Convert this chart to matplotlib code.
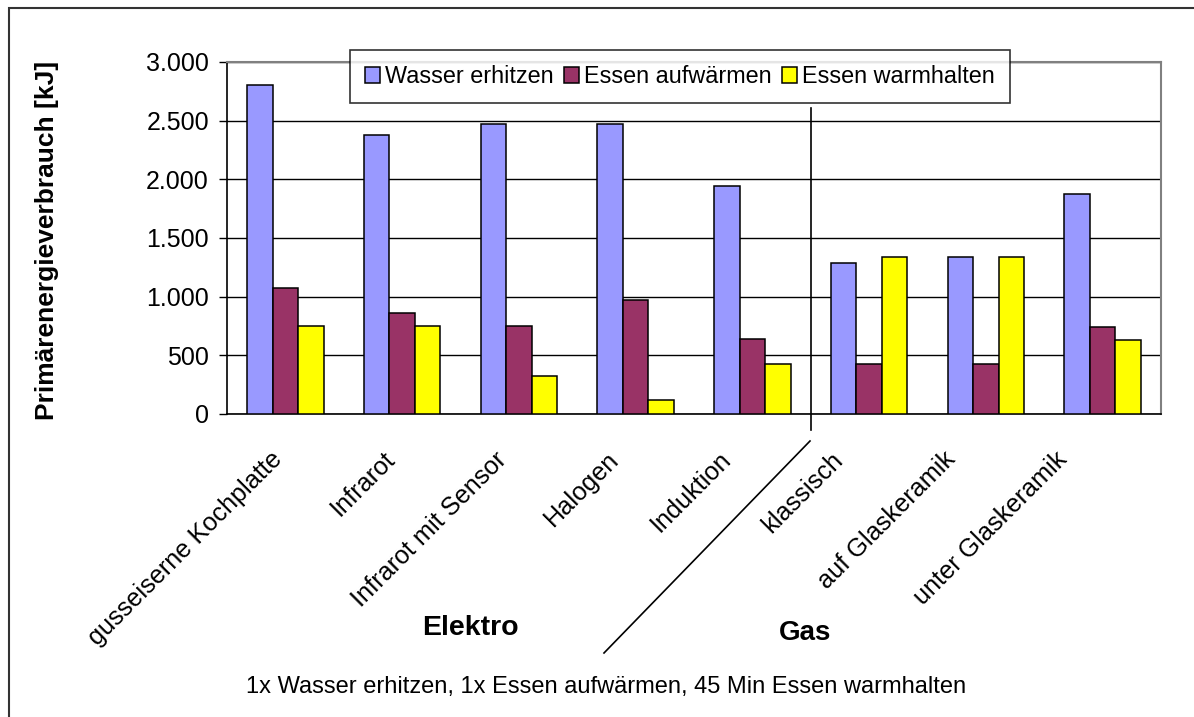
import numpy as np
import matplotlib.pyplot as plt
from matplotlib.patches import Rectangle
from matplotlib.lines import Line2D
from matplotlib.ticker import FuncFormatter
import matplotlib.transforms as mtransforms

plt.rcParams['font.family'] = ['Liberation Sans', 'DejaVu Sans']

categories = ["gusseiserne Kochplatte", "Infrarot", "Infrarot mit Sensor", "Halogen",
              "Induktion", "klassisch", "auf Glaskeramik", "unter Glaskeramik"]
series = ["Wasser erhitzen", "Essen aufwärmen", "Essen warmhalten"]
wasser = [2800, 2375, 2470, 2470, 1940, 1290, 1335, 1875]
aufwaermen = [1070, 865, 750, 975, 643, 427, 427, 740]
warmhalten = [752, 752, 327, 122, 427, 1335, 1335, 629]
colors = ["#9999FF", "#993366", "#FFFF00"]

W, H = 1194, 717
fig = plt.figure(figsize=(W / 100, H / 100), dpi=100)

# outer frame
fig.patches.append(Rectangle((9 / W, -0.1), 1.2, 1.1 - 8 / H, transform=fig.transFigure,
                             fill=False, edgecolor="#333333", lw=1.5))

ax = fig.add_axes([227 / W, 1 - 414 / H, (1161 - 227) / W, (414 - 62) / H])

x = np.arange(len(categories))
bw = 0.219
for i, (vals, c) in enumerate(zip([wasser, aufwaermen, warmhalten], colors)):
    ax.bar(x + (i - 1) * bw, vals, bw, color=c, edgecolor="black", lw=1.1,
           label=series[i], zorder=3)

ax.set_xlim(-0.5, len(categories) - 0.5)
ax.set_ylim(0, 3000)
ax.set_yticks(np.arange(0, 3001, 500))
ax.yaxis.set_major_formatter(FuncFormatter(lambda v, p: f"{int(v):,}".replace(",", ".")))
ax.grid(axis="y", color="black", lw=1, zorder=0)
ax.set_axisbelow(True)
for s in ["top", "right"]:
    ax.spines[s].set_color("#808080")
    ax.spines[s].set_linewidth(1.5)
for s in ["left", "bottom"]:
    ax.spines[s].set_color("black")
    ax.spines[s].set_linewidth(1.2)
ax.tick_params(axis="y", labelsize=18, length=6, width=1, pad=7)
ax.tick_params(axis="x", length=0, pad=24)
ax.set_xticks(x)
ax.set_xticklabels(categories, rotation=45, ha="right", va="top", rotation_mode="anchor",
                   fontsize=18.2)
# Excel spaces the slanted labels a little tighter than the categories
for i, lbl in enumerate(ax.get_xticklabels()):
    dx = -(15 + 4.7 * i)
    lbl.set_transform(lbl.get_transform() +
                      mtransforms.ScaledTranslation(dx / 100, 0, fig.dpi_scale_trans))

ax.set_ylabel("Primärenergieverbrauch [kJ]", fontsize=19, fontweight="bold")
ax.yaxis.set_label_coords((59 - 227) / (1161 - 227), 0.494)

leg = ax.legend(loc="upper left", bbox_to_anchor=((350 - 227) / (1161 - 227), 1 + 12 / 352),
                ncol=3, fontsize=16.8, frameon=True, fancybox=False, handlelength=0.65,
                handleheight=0.65, handletextpad=0.2, columnspacing=0.45,
                borderpad=0.65, borderaxespad=0)
leg.get_frame().set_edgecolor("black")
leg.get_frame().set_linewidth(1.2)
leg.set_zorder(5)

# separator between Elektro and Gas
trans = mtransforms.blended_transform_factory(ax.transData, ax.transAxes)
ax.add_line(Line2D([4.5, 4.5], [(414 - 108) / 352, -16 / 352], transform=trans,
                   color="black", lw=1.2, clip_on=False, zorder=4))
fig.add_artist(Line2D([810 / W, 604 / W], [1 - 441 / H, 1 - 653 / H],
                      transform=fig.transFigure, color="black", lw=1.2))

fig.text(470 / W, 1 - 628 / H, "Elektro", fontsize=20.5, fontweight="bold", ha="center", va="center")
fig.text(805 / W, 1 - 633 / H, "Gas", fontsize=20, fontweight="bold", ha="center", va="center")
fig.text(606 / W, 1 - 687 / H, "1x Wasser erhitzen, 1x Essen aufwärmen, 45 Min Essen warmhalten",
         fontsize=17, ha="center", va="center")

fig.savefig("out.png", dpi=100)
